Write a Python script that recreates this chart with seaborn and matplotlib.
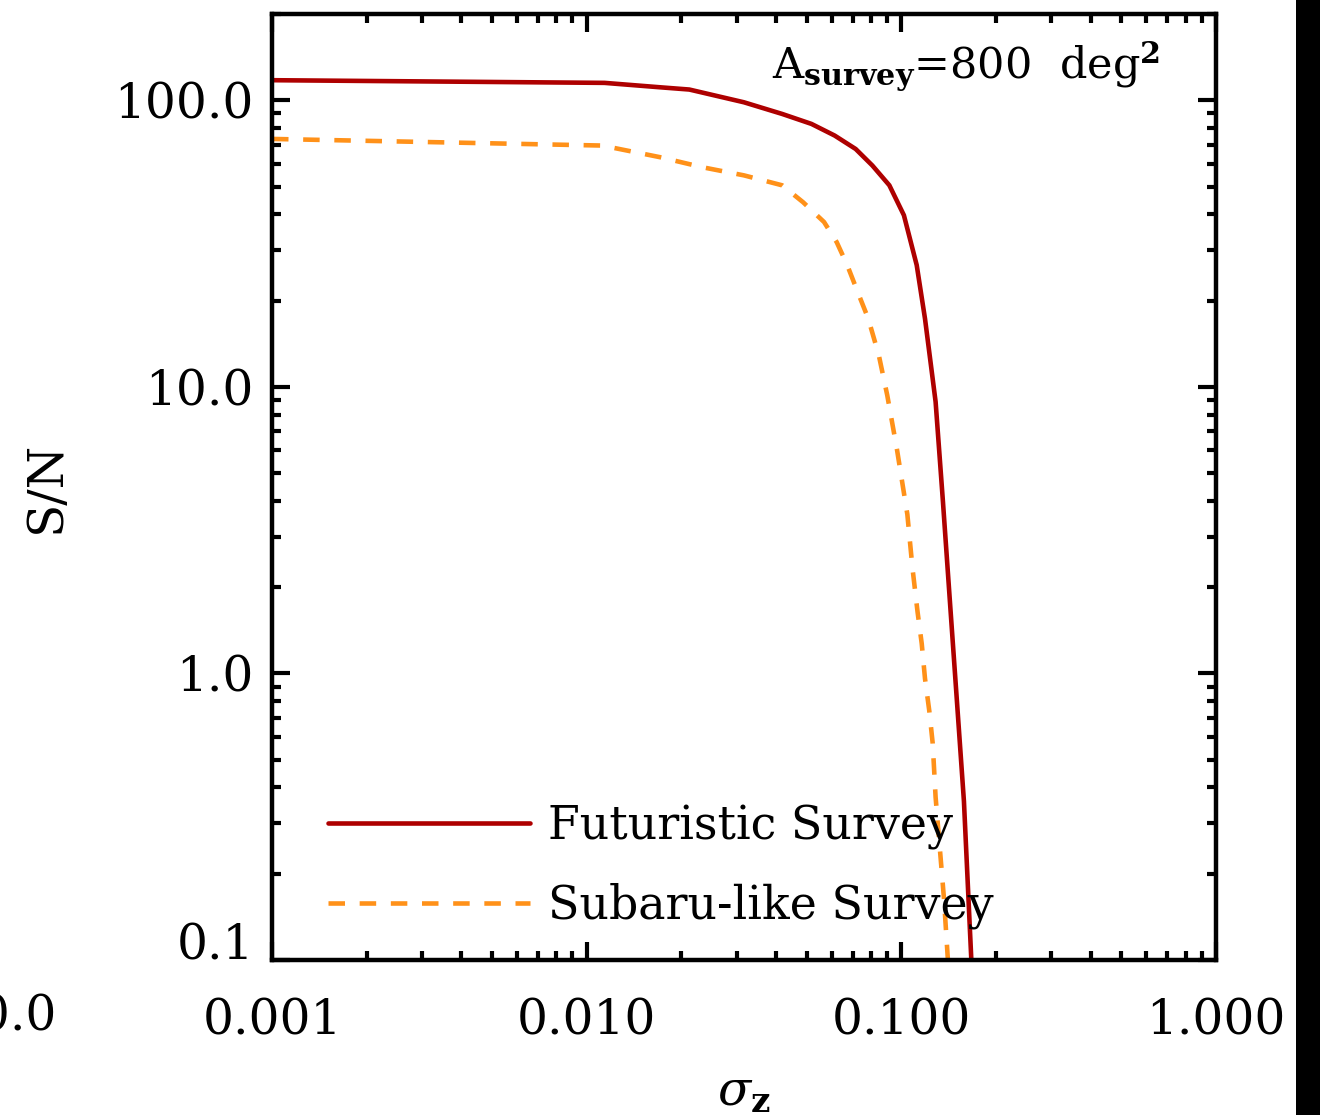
import numpy as np
import pandas as pd
import matplotlib
matplotlib.use("Agg")
import matplotlib.pyplot as plt
import matplotlib.ticker as mticker
from matplotlib.patches import Rectangle
import seaborn as sns

# ---------------- data ----------------
fut_sigma = [0.001, 0.0114, 0.0171, 0.0212, 0.0316, 0.0418, 0.0518, 0.0614,
             0.0716, 0.0809, 0.0916, 0.1019, 0.1119, 0.1189, 0.1285, 0.1356,
             0.1427, 0.1502, 0.1581, 0.1669, 0.172]
fut_sn = [117.5, 115.0, 111.0, 109.0, 98.4, 89.6, 82.7, 75.3,
          67.6, 59.2, 50.5, 39.7, 26.6, 17.3, 8.87, 3.97,
          1.78, 0.80, 0.358, 0.10, 0.07]

sub_sigma = [0.001, 0.0112, 0.0171, 0.0233, 0.0316, 0.0418, 0.0487, 0.0568,
             0.0623, 0.0673, 0.0727, 0.0785, 0.0848, 0.0902, 0.0968, 0.1045,
             0.1085, 0.1126, 0.1161, 0.1189, 0.1227, 0.1258, 0.1285, 0.1366,
             0.1406, 0.1425]
sub_sn = [73.3, 69.5, 63.3, 58.4, 54.7, 50.5, 44.1, 37.6,
          32.0, 26.6, 21.4, 17.3, 12.9, 9.35, 6.07, 3.59,
          2.33, 1.64, 1.27, 0.96, 0.74, 0.57, 0.37, 0.164,
          0.10, 0.085]

series_names = ["Futuristic Survey", "Subaru-like Survey"]
x_ticks = [0.001, 0.01, 0.1, 1.0]
x_ticklabels = ["0.001", "0.010", "0.100", "1.000"]
y_ticks = [0.1, 1.0, 10.0, 100.0]
y_ticklabels = ["0.1", "1.0", "10.0", "100.0"]

df = pd.concat([
    pd.DataFrame({"sigma_z": fut_sigma, "SN": fut_sn, "survey": series_names[0]}),
    pd.DataFrame({"sigma_z": sub_sigma, "SN": sub_sn, "survey": series_names[1]}),
], ignore_index=True)

# ---------------- style ----------------
sns.set_style("ticks")
plt.rcParams["font.family"] = ["DejaVu Serif"]
plt.rcParams["mathtext.fontset"] = "dejavuserif"
for k in ["text.color", "axes.labelcolor", "xtick.color", "ytick.color", "axes.edgecolor"]:
    plt.rcParams[k] = "black"

RED = "#AE0000"
ORANGE = "#FF9119"

fig = plt.figure(figsize=(13.2, 11.15), dpi=100)
ax = fig.add_axes([272 / 1320, 1 - 960 / 1115, (1216 - 272) / 1320, (960 - 14) / 1115])
ax.set_xscale("log")
ax.set_yscale("log")

sns.lineplot(data=df, x="sigma_z", y="SN", hue="survey", style="survey",
             palette={series_names[0]: RED, series_names[1]: ORANGE},
             dashes={series_names[0]: "", series_names[1]: (3.6, 3.2)},
             linewidth=3.3, estimator=None, sort=False, ax=ax)

ax.set_xlim(1e-3, 1.0)
ax.set_ylim(0.1, 200)

# ticks
ax.xaxis.set_major_locator(mticker.FixedLocator(x_ticks))
ax.xaxis.set_major_formatter(mticker.FixedFormatter(x_ticklabels))
ax.yaxis.set_major_locator(mticker.FixedLocator(y_ticks))
ax.yaxis.set_major_formatter(mticker.FixedFormatter(y_ticklabels))
ax.xaxis.set_minor_locator(mticker.LogLocator(base=10, subs=np.arange(2, 10), numticks=20))
ax.yaxis.set_minor_locator(mticker.LogLocator(base=10, subs=np.arange(2, 10), numticks=20))
ax.xaxis.set_minor_formatter(mticker.NullFormatter())
ax.yaxis.set_minor_formatter(mticker.NullFormatter())

ax.tick_params(which="both", direction="in", top=True, right=True,
               color="black", labelcolor="black", width=3.0)
ax.tick_params(which="major", length=13)
ax.tick_params(which="minor", length=6.5)
ax.tick_params(axis="x", which="major", pad=27, labelsize=35)
ax.tick_params(axis="y", which="major", pad=13, labelsize=35)
for s in ax.spines.values():
    s.set_linewidth(3.2)
    s.set_color("black")

ax.yaxis.get_major_ticks()[0].label1.set_verticalalignment("baseline")

# axis labels
ax.set_xlabel(r"$\sigma_{\mathbf{z}}$", fontsize=35, color="black")
ax.set_ylabel("S/N", fontsize=35, color="black")
ax.xaxis.set_label_coords(0.5, (960 - 1092) / 946)
ax.xaxis.label.set_verticalalignment("center")
ax.yaxis.set_label_coords((46 - 272) / 944, 0.5)
ax.yaxis.label.set_verticalalignment("center")

# annotation
ax.text(0.9407, 0.9323, r"A$_{\mathbf{survey}}$=800  deg$^{\mathbf{2}}$",
        transform=ax.transAxes, ha="right", va="baseline", fontsize=31, color="black")

# legend
handles, labels = ax.get_legend_handles_labels()
leg = ax.legend(handles, labels, loc="center left",
                bbox_to_anchor=((328 - 272) / 944, (960 - 866.5) / 946),
                frameon=False, fontsize=33, handlelength=4.4, handletextpad=0.4,
                labelspacing=0.72, borderpad=0, borderaxespad=0)
for t in leg.get_texts():
    t.set_color("black")

# partial tick label at far left (cut off in the reference)
fig.text(56 / 1320, 1 - 1017 / 1115, "10.0", ha="right", va="center", fontsize=35,
         color="black")

# black band at right edge
fig.patches.append(Rectangle((1296 / 1320, 0), 24 / 1320, 1, transform=fig.transFigure,
                             facecolor="black", edgecolor="none"))

fig.savefig("out.png", dpi=100)
